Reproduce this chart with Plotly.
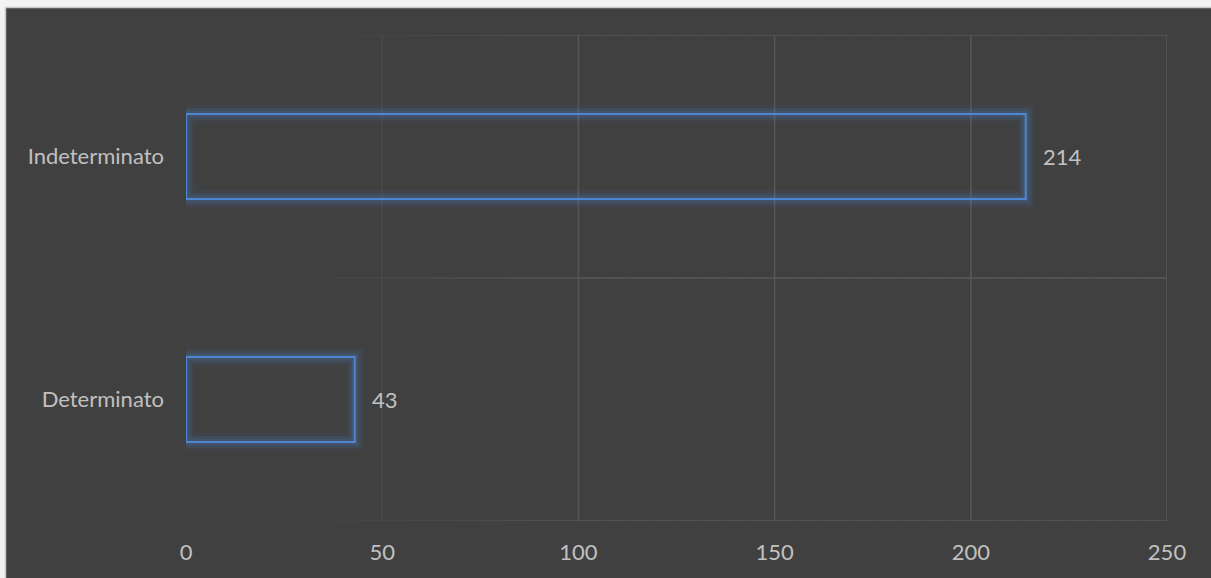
import numpy as np
import plotly.graph_objects as go

# Contract types and head counts
categories = ["Determinato", "Indeterminato"]
values = [43, 214]
x_ticks = [0, 50, 100, 150, 200, 250]

BG = "#404040"
TEXT = "#c0c0c0"
BLUE = "#4f86d0"
FONT = "Lato"
FS = 22

W, H = 1211, 578
ML, MR, MT, MB = 186, 44, 35, 57
PW, PH = W - ML - MR, H - MT - MB

fig = go.Figure()

# soft glow around the bar outlines
for lw, op in [(18, 0.06), (12, 0.10), (7, 0.16)]:
    fig.add_trace(go.Bar(
        y=categories, x=values, orientation="h", width=0.35,
        marker=dict(color="rgba(0,0,0,0)", line=dict(color=BLUE, width=lw)),
        opacity=op, hoverinfo="skip", showlegend=False,
    ))

# outlined bars
fig.add_trace(go.Bar(
    y=categories, x=values, orientation="h", width=0.35,
    marker=dict(color="rgba(0,0,0,0)", line=dict(color=BLUE, width=2)),
    showlegend=False,
))

# value labels
for c, v in zip(categories, values):
    fig.add_annotation(x=v, y=c, text=str(v), showarrow=False,
                       xanchor="left", xshift=15,
                       font=dict(family=FONT, size=FS, color=TEXT))

# gridlines that fade out toward the left
def alpha(xv):
    return float(np.clip((xv - 22) / 80.0, 0.0, 1.0))

GRID = "88,88,88"
shapes = []
seg = np.linspace(0, 250, 41)
for yb in [-0.5, 0.5, 1.5]:
    for a, b in zip(seg[:-1], seg[1:]):
        al = alpha((a + b) / 2)
        if al <= 0:
            continue
        shapes.append(dict(type="line", xref="x", yref="y", x0=a, x1=b, y0=yb, y1=yb,
                           line=dict(color=f"rgba({GRID},{al:.3f})", width=1.5),
                           layer="below"))
for xv in x_ticks[1:]:
    al = max(alpha(xv), 0.15)
    shapes.append(dict(type="line", xref="x", yref="y", x0=xv, x1=xv, y0=-0.5, y1=1.5,
                       line=dict(color=f"rgba({GRID},{al:.3f})", width=1.5),
                       layer="below"))

# light frame strips along the top and left edges
def px_x(p):
    return (p - ML) / PW

def px_y(p):
    return (H - MB - p) / PH

shapes.append(dict(type="rect", xref="paper", yref="paper",
                   x0=px_x(-2), x1=px_x(W + 2), y0=px_y(7), y1=px_y(-2),
                   fillcolor="#f2f2f2", line=dict(width=0), layer="above"))
shapes.append(dict(type="rect", xref="paper", yref="paper",
                   x0=px_x(-2), x1=px_x(5), y0=px_y(H + 2), y1=px_y(-2),
                   fillcolor="#f2f2f2", line=dict(width=0), layer="above"))
shapes.append(dict(type="line", xref="paper", yref="paper",
                   x0=px_x(5), x1=px_x(W + 2), y0=px_y(7.5), y1=px_y(7.5),
                   line=dict(color="#c6c6c6", width=1.5), layer="above"))
shapes.append(dict(type="line", xref="paper", yref="paper",
                   x0=px_x(5.5), x1=px_x(5.5), y0=px_y(H + 2), y1=px_y(7.5),
                   line=dict(color="#c6c6c6", width=1.5), layer="above"))

fig.update_layout(
    width=W, height=H,
    margin=dict(l=ML, r=MR, t=MT, b=MB),
    paper_bgcolor=BG, plot_bgcolor=BG,
    barmode="overlay",
    shapes=shapes,
    font=dict(family=FONT, size=FS, color=TEXT),
    xaxis=dict(range=[0, 250], tickvals=x_ticks, showgrid=False, zeroline=False,
               showline=False, ticks="", ticklabelstandoff=16,
               tickfont=dict(family=FONT, size=FS, color=TEXT), fixedrange=True),
    yaxis=dict(categoryorder="array", categoryarray=categories, range=[-0.5, 1.5],
               showgrid=False, zeroline=False, showline=False, ticks="",
               ticklabelstandoff=21,
               tickfont=dict(family=FONT, size=FS, color=TEXT), fixedrange=True),
)

fig.write_html("out.html")
